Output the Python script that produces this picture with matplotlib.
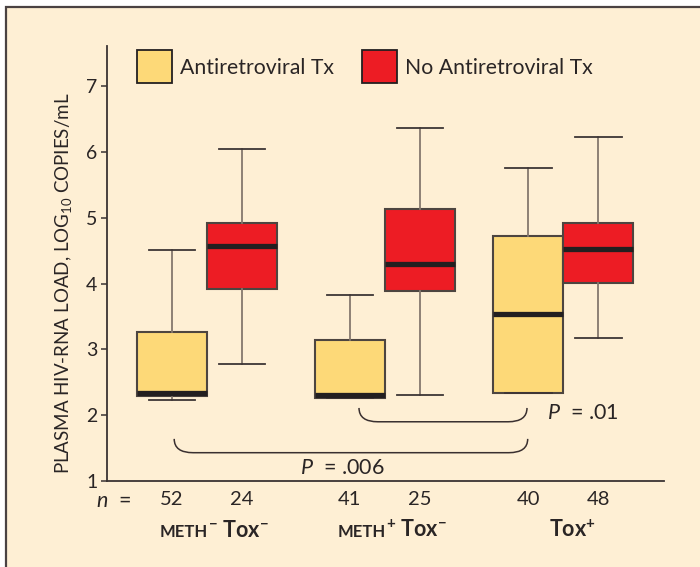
import matplotlib.pyplot as plt
from matplotlib.patches import Patch, Rectangle, PathPatch
from matplotlib.path import Path
from matplotlib.offsetbox import TextArea, HPacker, AnnotationBbox

plt.rcParams['font.family'] = ['Lato', 'DejaVu Sans']
plt.rcParams['mathtext.fontset'] = 'custom'
plt.rcParams['mathtext.rm'] = 'Lato'
plt.rcParams['mathtext.it'] = 'Lato:italic'
plt.rcParams['mathtext.bf'] = 'Lato:bold'

# data (log10 copies/mL)
treatments = ['Antiretroviral Tx', 'No Antiretroviral Tx']
group_caps = ['METH', 'METH', '']
group_rest = [r'$^{\mathbf{-}}$ Tox$^{\mathbf{-}}$',
              r'$^{\mathbf{+}}$ Tox$^{\mathbf{-}}$',
              r'Tox$^{\mathbf{+}}$']
n_counts = [52, 24, 41, 25, 40, 48]
whislo = [2.23, 2.78, 2.26, 2.31, 2.34, 3.17]
q1 = [2.29, 3.92, 2.26, 3.89, 2.34, 4.01]
med = [2.33, 4.57, 2.30, 4.30, 3.54, 4.52]
q3 = [3.26, 4.92, 3.14, 5.13, 4.72, 4.92]
whishi = [4.51, 6.04, 3.83, 6.36, 5.75, 6.23]
p_labels = ['.01', '.006']

cream = '#FEEFD4'
yellow = '#FDD978'
red = '#ED1C24'
dark = '#231F20'
txt = '#2a2525'

fig = plt.figure(figsize=(7, 5.67), dpi=100, facecolor='white')
bg = Rectangle((6 / 700, -0.1), 1.2, 1.1 - 7 / 567,
               transform=fig.transFigure, facecolor=cream,
               edgecolor='#4a4242', linewidth=1.6, zorder=-5)
fig.patches.append(bg)
ax = fig.add_axes([107 / 700, 1 - 481 / 567, 557 / 700, 435 / 567])
ax.set_facecolor('none')
ax.set_zorder(2)

group_x = [1.43, 3.97, 6.52]
positions = []
for g in group_x:
    positions += [g - 0.5, g + 0.5]

stats = []
for i in range(6):
    stats.append(dict(med=med[i], q1=q1[i], q3=q3[i],
                      whislo=whislo[i], whishi=whishi[i], fliers=[]))

bp = ax.bxp(stats, positions=positions, widths=1.0, capwidths=0.66,
            patch_artist=True, showfliers=False,
            boxprops=dict(edgecolor='#4d4540', linewidth=1.5),
            whiskerprops=dict(color='#85786e', linewidth=1.3),
            capprops=dict(color='#3d3535', linewidth=1.3),
            medianprops=dict(color=dark, linewidth=3.8, solid_capstyle='butt'))
for i, b in enumerate(bp['boxes']):
    b.set_facecolor(yellow if i % 2 == 0 else red)

ax.set_xlim(0, 557 / 70)
ax.set_ylim(1, 7.61)
ax.spines['top'].set_visible(False)
ax.spines['right'].set_visible(False)
for s in ['left', 'bottom']:
    ax.spines[s].set_color('#3a3333')
    ax.spines[s].set_linewidth(1.3)
ax.set_yticks(range(1, 8))
ax.tick_params(axis='y', length=4, width=1.1, colors='#3a3333',
               labelsize=14, pad=3, labelcolor=txt)
ax.set_xticks(positions)
ax.set_xticklabels([str(n) for n in n_counts])
ax.tick_params(axis='x', length=0, labelsize=14.5, pad=7, labelcolor=txt)
ax.text(0.043, -0.024, '$n$  =', transform=ax.transAxes,
        ha='right', va='top', fontsize=15.5, color=txt)

ax.set_ylabel(r'PLASMA HIV-RNA LOAD, LOG$_{\mathregular{10}}$ COPIES/mL',
              fontsize=13.5, color=txt)
ax.yaxis.set_label_coords(-0.06, 0.455)

# group labels with small caps part
for k in range(3):
    parts = []
    if group_caps[k]:
        parts.append(TextArea(group_caps[k], textprops=dict(
            fontsize=12, fontweight='bold', color=txt)))
    parts.append(TextArea(group_rest[k], textprops=dict(
        fontsize=15.5, fontweight='bold', color=txt)))
    box = HPacker(children=parts, align='baseline', pad=0, sep=0)
    shift = 0.1 if group_caps[k] else 0.13
    ab = AnnotationBbox(box, (group_x[k] + shift, -0.113),
                        xycoords=ax.get_xaxis_transform(), frameon=False,
                        box_alignment=(0.5, 0.5), annotation_clip=False)
    ax.add_artist(ab)

# significance brackets
brackets = [dict(x0=3.6, x1=6.0, yt=2.11, yb=1.90, tx=6.29, ty=2.03, ha='left'),
            dict(x0=0.96, x1=6.01, yt=1.64, yb=1.43, tx=3.36, ty=1.20, ha='center')]
rx = 0.27
for br, p in zip(brackets, p_labels):
    verts = [(br['x0'], br['yt']), (br['x0'], br['yb']), (br['x0'] + rx, br['yb']),
             (br['x1'] - rx, br['yb']), (br['x1'], br['yb']), (br['x1'], br['yt'])]
    codes = [Path.MOVETO, Path.CURVE3, Path.CURVE3,
             Path.LINETO, Path.CURVE3, Path.CURVE3]
    ax.add_patch(PathPatch(Path(verts, codes), facecolor='none',
                           edgecolor='#3a3030', linewidth=1.1, clip_on=False))
    ax.text(br['tx'], br['ty'], '$P$  = ' + p, ha=br['ha'], va='center',
            fontsize=15.5, color=txt)

handles = [Patch(facecolor=yellow, edgecolor=dark, linewidth=1.3),
           Patch(facecolor=red, edgecolor=dark, linewidth=1.3)]
ax.legend(handles, treatments, ncol=2, frameon=False, fontsize=15.3,
          loc='upper left', bbox_to_anchor=(30 / 557, 0.99),
          handlelength=1.65, handleheight=2.0, handletextpad=0.35,
          columnspacing=1.35, borderaxespad=0, borderpad=0)
for t in ax.get_legend().get_texts():
    t.set_color(txt)

fig.savefig('out.png', dpi=100, facecolor='white')
